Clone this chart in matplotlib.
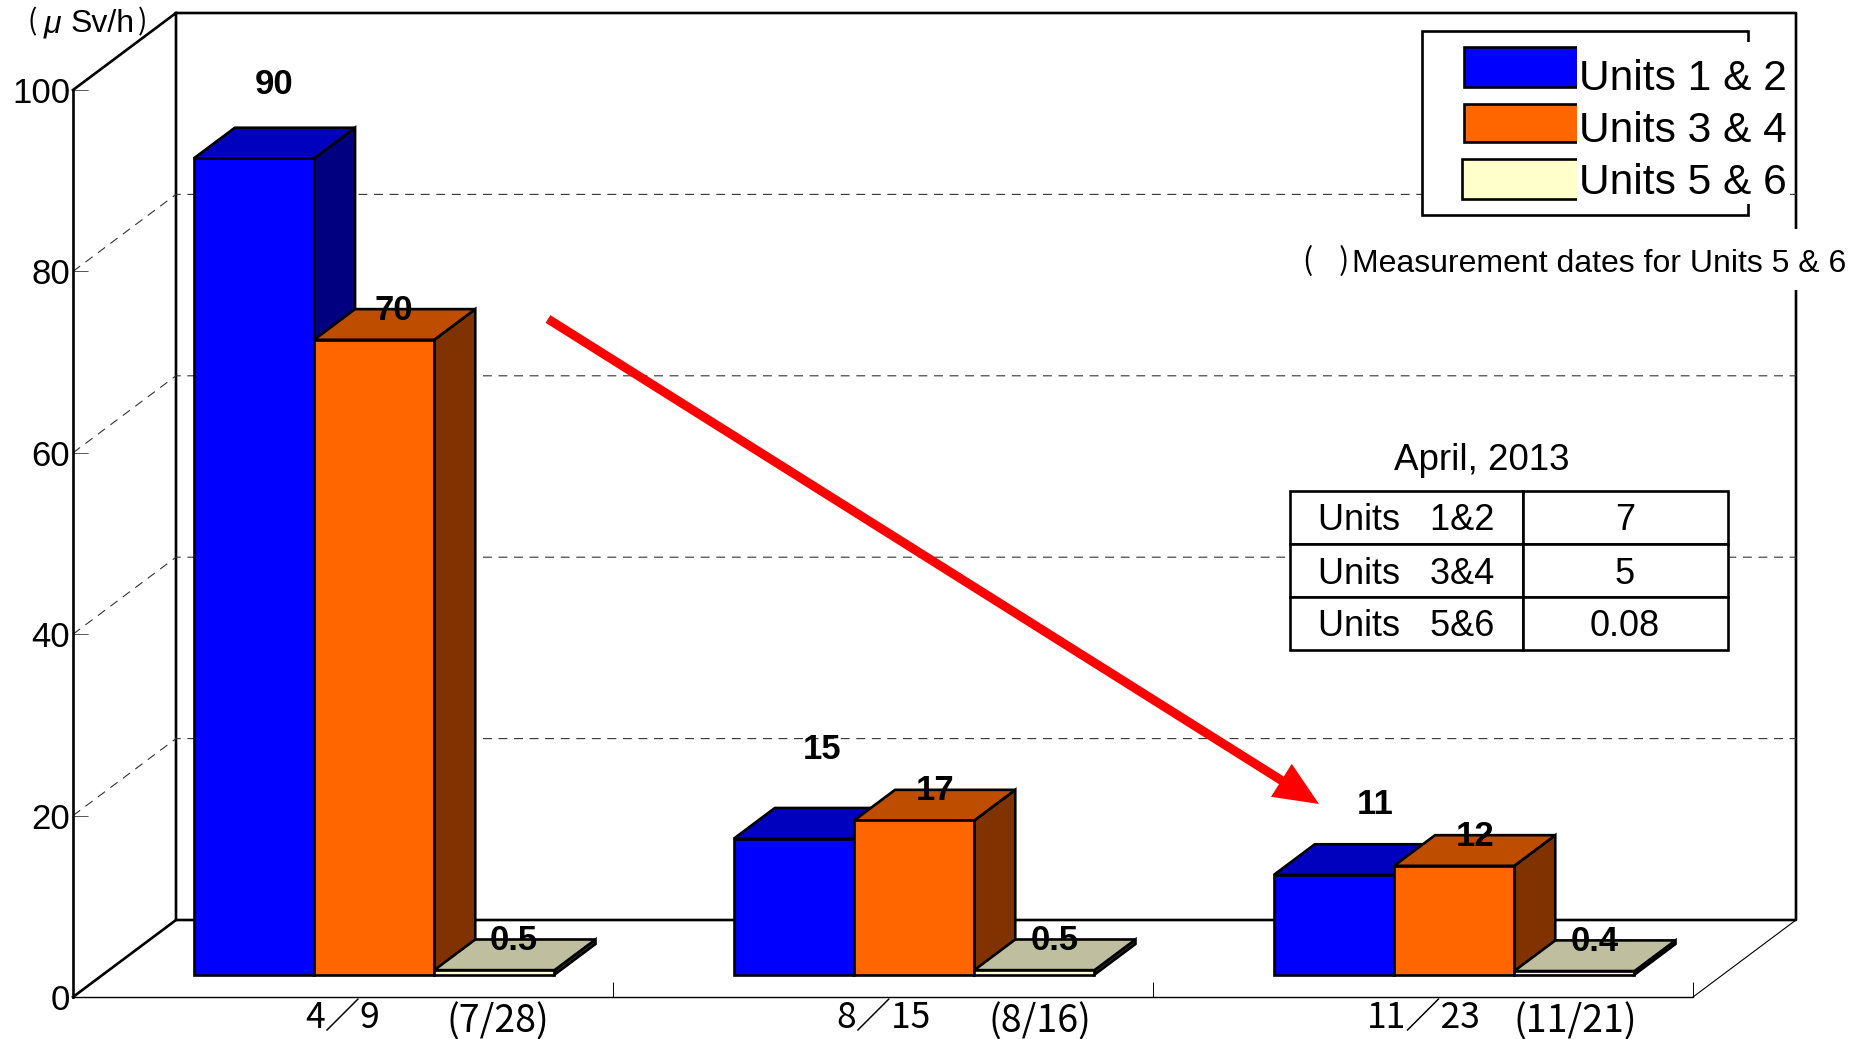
import matplotlib
matplotlib.use('Agg')
import matplotlib.pyplot as plt
from matplotlib.patches import Rectangle, FancyArrowPatch

plt.rcParams['font.family'] = ['Liberation Sans', 'DejaVu Sans']

# values in micro Sv/h
units12 = [90, 15, 11]
units34 = [70, 17, 12]
units56 = [0.5, 0.5, 0.4]
y_ticks = [0, 20, 40, 60, 80, 100]
grid_vals = [20, 40, 60, 80]
dates = ['4／9', '8／15', '11／23']
dates56 = ['(7/28)', '(8/16)', '(11/21)']
legend_names = ['Units 1 & 2', 'Units 3 & 4', 'Units 5 & 6']
table_names = ['Units   1&2', 'Units   3&4', 'Units   5&6']
table_vals = ['7', '5', '0.08']

W, H = 1868, 1039
fig = plt.figure(figsize=(W / 100, H / 100), dpi=100)
ax = fig.add_axes([73 / W, 1 - 997 / H, 1620 / W, 907 / H])
ax.set_xlim(0, 3)
ax.set_ylim(0, 100)

# depth of the fake 3d box, in data units
WALL_DX = 103 / 540
WALL_DY = 77 / 9.07
D0, D1 = 0.29, 0.688
BAR_W = 120.2 / 540
BAR_START = 91 / 540

LW = 1.9

# walls
wall_x = [0, WALL_DX, 3 + WALL_DX, 3 + WALL_DX, WALL_DX, WALL_DX]
wall_y = [100, 100 + WALL_DY, 100 + WALL_DY, WALL_DY, WALL_DY, 100 + WALL_DY]
ax.plot(wall_x, wall_y, color='k', lw=LW, clip_on=False, zorder=1)
ax.plot([0, WALL_DX], [0, WALL_DY], color='k', lw=LW, clip_on=False, zorder=1)
ax.plot([3, 3 + WALL_DX], [0, WALL_DY], color='k', lw=0.8, clip_on=False, zorder=1)
for v in grid_vals:
    ax.plot([0, WALL_DX, 3 + WALL_DX], [v, v + WALL_DY, v + WALL_DY], color='#333333',
            lw=0.8, ls=(0, (8, 6)), clip_on=False, zorder=1)

# axes
for s in ['top', 'right']:
    ax.spines[s].set_visible(False)
ax.spines['left'].set_linewidth(LW)
ax.spines['bottom'].set_linewidth(1.0)
ax.set_yticks(y_ticks)
ax.set_yticklabels([str(v) for v in y_ticks], fontsize=25)
ax.tick_params(axis='y', direction='in', length=11, width=0.7, color='#555555', pad=2)
ax.yaxis.get_major_ticks()[0].tick1line.set_visible(False)
ax.set_xticks([1, 2, 3])
ax.set_xticklabels([])
ax.tick_params(axis='x', direction='in', length=11, width=0.7)


def bar3d(x, h, front, top, side, z):
    # x is the front left corner of the bar before the depth shift
    x0 = x + D0 * WALL_DX
    x1 = x0 + BAR_W
    y0 = D0 * WALL_DY
    ddx = (D1 - D0) * WALL_DX
    ddy = (D1 - D0) * WALL_DY
    ax.fill([x1, x1 + ddx, x1 + ddx, x1], [y0, y0 + ddy, y0 + h + ddy, y0 + h],
            facecolor=side, edgecolor='k', lw=LW, zorder=z, clip_on=False)
    ax.fill([x0, x0 + ddx, x1 + ddx, x1], [y0 + h, y0 + h + ddy, y0 + h + ddy, y0 + h],
            facecolor=top, edgecolor='k', lw=LW, zorder=z, clip_on=False)
    ax.bar(x0, h, BAR_W, bottom=y0, align='edge', color=front, edgecolor='k', lw=LW,
           zorder=z, clip_on=False)
    return x0, y0 + h


series = [
    (units12, '#0000ff', '#0000bf', '#000080'),
    (units34, '#ff6600', '#bf4d00', '#803300'),
    (units56, '#ffffcc', '#bfbf9f', '#333322'),
]
# label shift from the front top left corner of each bar, in pixels
label_dx = [[80, 88, 101], [80, 81, 81], [79, 80, 80]]
label_dy = [[74, 89, 70], [29, 30, 29], [30, 30, 30]]

for j, (vals, front, top, side) in enumerate(series):
    for i, v in enumerate(vals):
        x = i + BAR_START + j * BAR_W
        px, py = bar3d(x, v, front, top, side, 3 + j)
        ax.annotate(str(v), (px, py), xytext=(label_dx[j][i], label_dy[j][i]),
                    textcoords='offset pixels', ha='center', va='center',
                    fontsize=25, fontweight='bold', zorder=10, annotation_clip=False)

# overlay in pixel units for notes, legend and small table
ov = fig.add_axes([0, 0, 1, 1])
ov.set_xlim(0, W)
ov.set_ylim(H, 0)
ov.axis('off')
ov.patch.set_alpha(0)

cjk = ['Noto Sans CJK JP', 'DejaVu Sans']
date_x = [343, 883, 1424]
date56_x = [498, 1040, 1575]
for i in range(3):
    ov.text(date_x[i], 1019, dates[i], family=cjk, fontsize=25.5, ha='center', va='center')
    ov.text(date56_x[i], 1022, dates56[i], family=cjk, fontsize=27, ha='center', va='center')

ov.text(27, 22, '(', family=cjk, fontsize=20, ha='left', va='center')
ov.text(44, 24, 'μ', fontsize=23, style='italic', ha='left', va='center')
ov.text(71, 24, 'Sv/h', fontsize=23, ha='left', va='center')
ov.text(147, 22, ')', family=cjk, fontsize=20, ha='right', va='center')

# legend
ov.add_patch(Rectangle((1422, 31), 326, 184, facecolor='white', edgecolor='k', lw=LW, zorder=2))
ov.add_patch(Rectangle((1740, 42), 50, 162, facecolor='white', edgecolor='none', zorder=3))
swatch_y = [47, 103.5, 158.5]
swatch_h = [40, 38, 40]
swatch_x = [1464, 1464, 1462]
swatch_c = ['#0000ff', '#ff6600', '#ffffcc']
name_y = [78.5, 130.5, 182.5]
for k in range(3):
    ov.add_patch(Rectangle((swatch_x[k], swatch_y[k]), 1580 - swatch_x[k], swatch_h[k],
                           facecolor=swatch_c[k], edgecolor='k', lw=LW, zorder=4))
    ov.add_patch(Rectangle((1577, swatch_y[k] - 3), 8, swatch_h[k] + 6, facecolor='white',
                           edgecolor='none', zorder=5))
    ov.text(1579, name_y[k], legend_names[k], fontsize=30.6, ha='left', va='center', zorder=6)

# note about the dates
ov.add_patch(Rectangle((1290, 229), 565, 61, facecolor='white', edgecolor='none', zorder=2))
ov.text(1302, 262, '(', family=cjk, fontsize=22, ha='left', va='center', zorder=3)
ov.text(1349, 262, ')', family=cjk, fontsize=22, ha='right', va='center', zorder=3)
ov.text(1352, 263.5, 'Measurement dates for Units 5 & 6', fontsize=23, ha='left', va='center', zorder=3)

# april table, grid from the library, text placed on the rows
ov.text(1482, 460.5, 'April, 2013', fontsize=26.5, ha='center', va='center')
tb = ov.table(cellText=[['', ''] for _ in table_names], colWidths=[233 / 437.7, 204.7 / 437.7],
              bbox=[1290 / W, 1 - 650 / H, 437.7 / W, 159.3 / H])
for cell in tb.get_celld().values():
    cell.set_linewidth(LW)
    cell.set_edgecolor('k')
    cell.set_facecolor('white')
row_y = [521, 574.5, 627]
for k in range(3):
    ov.text(1406, row_y[k], table_names[k], fontsize=26, ha='center', va='center', zorder=6)
    ov.text(1625, row_y[k], table_vals[k], fontsize=26, ha='center', va='center', zorder=6)

# red arrow
ov.add_patch(FancyArrowPatch((548, 319), (1319, 804),
                             arrowstyle='simple,head_length=32,head_width=28,tail_width=6.5',
                             mutation_scale=1, color='#ff0000', lw=0, shrinkA=0, shrinkB=0, zorder=8))

fig.savefig('out.png', dpi=100)
